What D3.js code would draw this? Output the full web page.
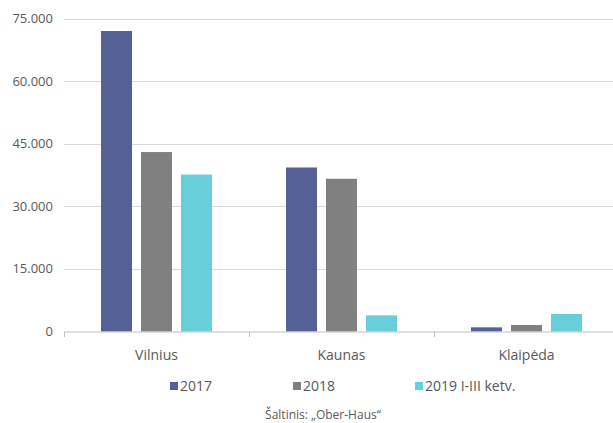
<!DOCTYPE html>
<html lang="lt">
  <head>
    <meta charset="utf-8">
    <title>Ober-Haus</title>
    <style>
      body{ margin:0; background:#fff; }
      text{ font-family:"Open Sans", sans-serif; fill:#595959; }
    </style>
    <script type="text/javascript" src="https://cdn.jsdelivr.net/npm/d3@7/dist/d3.min.js"></script>
  </head>
  <body>
  <svg width="613" height="423"></svg>
    <script>
// data
var cities = ["Vilnius", "Kaunas", "Klaipėda"];
var series = ["2017", "2018", "2019 I-III ketv."];
var v2017 = [72000, 39300, 1000];
var v2018 = [43000, 36600, 1550];
var v2019 = [37600, 3870, 4200];
var yTicks = [0, 15000, 30000, 45000, 60000, 75000];
var colors = ["#546096", "#808080", "#67cfd9"];

var values = [v2017, v2018, v2019];

var svg = d3.select("svg");

var x0 = d3.scaleBand().domain(cities).range([64, 619]);
var x1 = d3.scaleBand().domain(series).range([37, 148]).paddingInner(0.225);
var y = d3.scaleLinear().domain([0, 75000]).range([331.5, 18.5]);

var fmt = function(d){ return d == 0 ? "0" : d3.format(",")(d).replace(/,/g, "."); };

// gridlines
svg.append("g").selectAll("line")
    .data(yTicks.filter(function(d){ return d > 0; }))
    .enter().append("line")
    .attr("x1", 64).attr("x2", 613)
    .attr("y1", function(d){ return Math.round(y(d)) + 0.5; })
    .attr("y2", function(d){ return Math.round(y(d)) + 0.5; })
    .attr("stroke", "#d9d9d9").attr("stroke-width", 1);

// y labels
svg.append("g").selectAll("text")
    .data(yTicks)
    .enter().append("text")
    .attr("x", 53)
    .attr("y", function(d){ return y(d) + 4.5; })
    .attr("text-anchor", "end")
    .style("font-size", "13px")
    .text(fmt);

// bars
series.forEach(function(s, i){
  svg.append("g").selectAll("rect")
      .data(cities)
      .enter().append("rect")
      .attr("x", function(c){ return x0(c) + x1(s); })
      .attr("width", x1.bandwidth())
      .attr("y", function(c, j){ return y(values[i][j]); })
      .attr("height", function(c, j){ return y(0) - y(values[i][j]); })
      .attr("fill", colors[i]);
});

// x axis
svg.append("line")
    .attr("x1", 64).attr("x2", 613)
    .attr("y1", 332).attr("y2", 332)
    .attr("stroke", "#bfbfbf");
svg.append("g").selectAll("line")
    .data(cities)
    .enter().append("line")
    .attr("x1", function(c){ return Math.round(x0(c)) + 0.5; })
    .attr("x2", function(c){ return Math.round(x0(c)) + 0.5; })
    .attr("y1", 332).attr("y2", 337)
    .attr("stroke", "#bfbfbf");

svg.append("g").selectAll("text")
    .data(cities)
    .enter().append("text")
    .attr("x", function(c){ return x0(c) + x0.bandwidth() / 2; })
    .attr("y", 360)
    .attr("text-anchor", "middle")
    .style("font-size", "14px")
    .text(function(c){ return c; });

// legend
var legX = [170, 293, 415];
var leg = svg.append("g").selectAll("g")
    .data(series)
    .enter().append("g")
    .attr("transform", function(d, i){ return "translate(" + legX[i] + ",382)"; });
leg.append("rect")
    .attr("width", 8).attr("height", 8)
    .attr("fill", function(d, i){ return colors[i]; });
leg.append("text")
    .attr("x", 10).attr("y", 8.5)
    .style("font-size", "14px")
    .text(function(d){ return d; });

svg.append("text")
    .attr("x", 323).attr("y", 419)
    .attr("text-anchor", "middle")
    .style("font-size", "12px")
    .text("Šaltinis: „Ober-Haus“");
    </script>
  </body>
</html>
